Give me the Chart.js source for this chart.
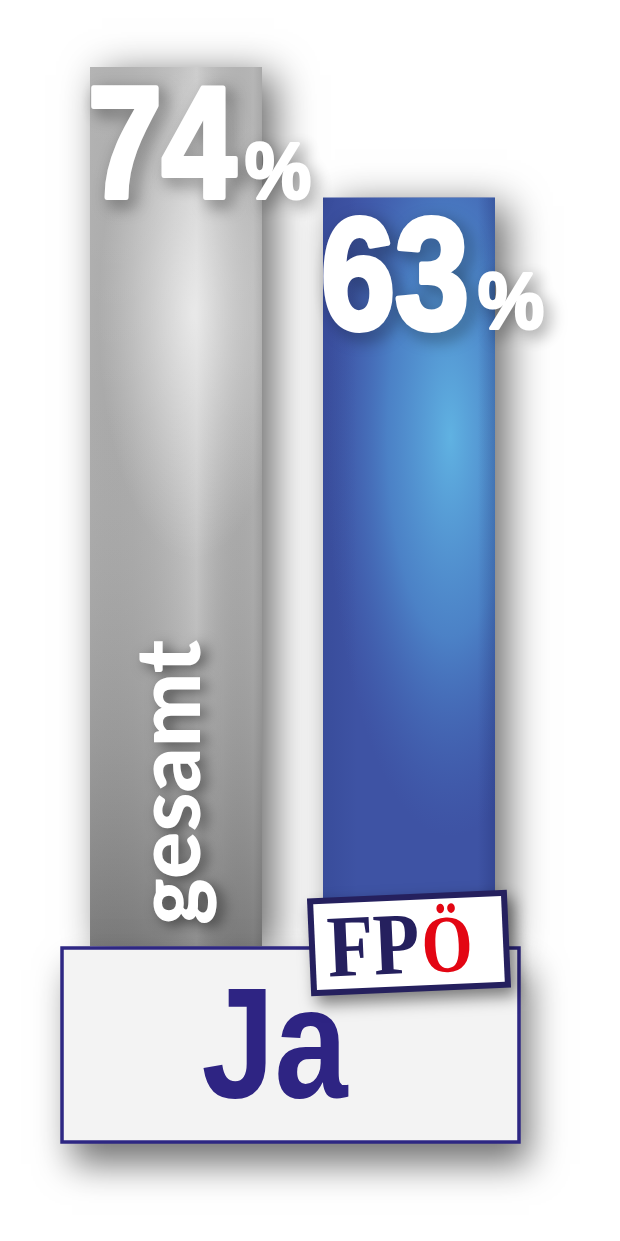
<!DOCTYPE html>
<html><head><meta charset="utf-8">
<script src="https://cdn.jsdelivr.net/npm/chart.js@4.4.0/dist/chart.umd.min.js"></script>
<style>html,body{margin:0;padding:0;background:#fff;overflow:hidden}canvas{display:block}</style>
</head><body>
<canvas id="c" width="620" height="1241"></canvas>
<script>
// ---- data ----
const categories = ['gesamt', 'FPÖ'];
const values = [74, 63];
const valueSuffix = '%';
const answerLabel = 'Ja';
const barColors = ['#b0b0b0', '#3e53a4'];

const HEAVY = 'Lato, "Liberation Sans", Arial, sans-serif';
const SANS = '"Liberation Sans", Arial, sans-serif';
const SERIF = '"Liberation Serif", "Times New Roman", serif';

function heavyText(ctx, txt, sx, tx, ty, lw) {
  ctx.save();
  ctx.translate(tx, ty); ctx.scale(sx, 1);
  ctx.lineJoin = 'round';
  ctx.lineWidth = lw / sx;
  ctx.strokeStyle = '#fff';
  ctx.strokeText(txt, 0, 0);
  ctx.shadowColor = 'transparent';
  ctx.fillText(txt, 0, 0);
  ctx.restore();
}

function drawValue(ctx, num, rightX, baseY) {
  ctx.save();
  ctx.fillStyle = '#fff';
  ctx.shadowColor = 'rgba(0,0,0,0.62)';
  ctx.shadowBlur = 16; ctx.shadowOffsetX = 6; ctx.shadowOffsetY = 6;
  ctx.textBaseline = 'alphabetic'; ctx.textAlign = 'left';
  ctx.font = 'bold 80px ' + SANS;
  const pm = ctx.measureText(valueSuffix).width;
  const ps = 66 / pm;
  const pw = pm * ps;
  ctx.font = 'bold 158px ' + SANS;
  const nm = ctx.measureText(num).width;
  const ns = (num.length * 74) / nm;
  const nw = nm * ns;
  heavyText(ctx, num, ns, rightX - pw - 10 - nw, baseY - 2, 5);
  ctx.font = 'bold 80px ' + SANS;
  heavyText(ctx, valueSuffix, ps, rightX - pw - 1, baseY - 1.5, 3);
  ctx.restore();
}

const fx = {
  id: 'fx',
  beforeDatasetsDraw(chart) {
    const ctx = chart.ctx;
    chart.getDatasetMeta(0).data.forEach((el, i) => {
      const w = el.width, x0 = el.x - w / 2, top = el.y, h = el.base - el.y;
      ctx.save();
      ctx.shadowColor = 'rgba(0,0,0,0.6)';
      ctx.shadowBlur = 38; ctx.shadowOffsetX = 12; ctx.shadowOffsetY = 8;
      ctx.fillStyle = barColors[i];
      ctx.fillRect(x0, top, w, h);
      ctx.restore();
    });
  },
  afterDatasetsDraw(chart) {
    const ctx = chart.ctx;
    const bars = chart.getDatasetMeta(0).data;
    bars.forEach((el, i) => {
      const w = el.width, x0 = el.x - w / 2, top = el.y, h = el.base - el.y;
      ctx.save();
      ctx.beginPath(); ctx.rect(x0, top, w, h); ctx.clip();
      if (i === 0) {
        let g = ctx.createLinearGradient(x0, 0, x0 + w, 0);
        g.addColorStop(0, 'rgba(0,0,0,0.05)');
        g.addColorStop(0.62, 'rgba(255,255,255,0.25)');
        g.addColorStop(0.95, 'rgba(0,0,0,0.04)');
        g.addColorStop(1, 'rgba(0,0,0,0.12)');
        ctx.fillStyle = g; ctx.fillRect(x0, top, w, h);
        g = ctx.createLinearGradient(0, top, 0, el.base);
        g.addColorStop(0, 'rgba(255,255,255,0.15)');
        g.addColorStop(0.4, 'rgba(255,255,255,0.05)');
        g.addColorStop(1, 'rgba(0,0,0,0.26)');
        ctx.fillStyle = g; ctx.fillRect(x0, top, w, h);
        ctx.save(); ctx.translate(x0 + w * 0.6, top + h * 0.28); ctx.scale(1, 2.6);
        const rg = ctx.createRadialGradient(0, 0, 0, 0, 0, 95);
        rg.addColorStop(0, 'rgba(255,255,255,0.6)');
        rg.addColorStop(1, 'rgba(255,255,255,0)');
        ctx.fillStyle = rg; ctx.fillRect(-200, -200, 400, 400); ctx.restore();
      } else {
        ctx.save(); ctx.translate(x0 + w * 0.74, top + h * 0.32); ctx.scale(1, 3.2);
        const rg = ctx.createRadialGradient(0, 0, 0, 0, 0, 125);
        rg.addColorStop(0, 'rgba(96,178,226,1)');
        rg.addColorStop(0.5, 'rgba(80,145,210,0.75)');
        rg.addColorStop(1, 'rgba(70,110,190,0)');
        ctx.fillStyle = rg; ctx.fillRect(-300, -300, 600, 600); ctx.restore();
        let g = ctx.createLinearGradient(x0, 0, x0 + w, 0);
        g.addColorStop(0, 'rgba(20,30,90,0.12)');
        g.addColorStop(0.2, 'rgba(20,30,90,0)');
        g.addColorStop(0.9, 'rgba(20,30,90,0)');
        g.addColorStop(1, 'rgba(20,30,90,0.22)');
        ctx.fillStyle = g; ctx.fillRect(x0, top, w, h);
      }
      ctx.restore();
      drawValue(ctx, String(values[i]), x0 + w + 50, top + 132);
    });

    // rotated category label on first bar
    const b0 = bars[0];
    ctx.save();
    ctx.fillStyle = '#fff';
    ctx.shadowColor = 'rgba(0,0,0,0.55)';
    ctx.shadowBlur = 14; ctx.shadowOffsetX = 6; ctx.shadowOffsetY = 4;
    ctx.translate(b0.x + 24, b0.base - 21);
    ctx.rotate(-Math.PI / 2);
    ctx.font = '900 90px ' + HEAVY;
    const gm = ctx.measureText(categories[0]).width;
    ctx.scale(285 / gm, 1);
    ctx.textAlign = 'left'; ctx.textBaseline = 'alphabetic';
    ctx.fillText(categories[0], 0, 0);
    ctx.restore();

    // answer box
    const b1 = bars[1];
    const bx = b0.x - b0.width / 2 - 28, bxr = b1.x + b1.width / 2 + 24;
    const by = b0.base + 2, bh = 194;
    ctx.save();
    ctx.shadowColor = 'rgba(0,0,0,0.55)';
    ctx.shadowBlur = 34; ctx.shadowOffsetX = 10; ctx.shadowOffsetY = 22;
    ctx.fillStyle = '#f3f3f3';
    ctx.fillRect(bx, by, bxr - bx, bh);
    ctx.restore();
    ctx.save();
    ctx.strokeStyle = '#2e2783'; ctx.lineWidth = 3.5;
    ctx.strokeRect(bx, by, bxr - bx, bh);
    ctx.fillStyle = '#2e2483';
    ctx.font = 'bold 158px ' + SANS;
    const jw = ctx.measureText(answerLabel).width;
    const js = 146 / jw;
    ctx.translate((bx + bxr) / 2 - 16, by + 149);
    ctx.scale(js, 1);
    ctx.textAlign = 'center'; ctx.textBaseline = 'alphabetic';
    ctx.fillText(answerLabel, 0, 0);
    ctx.restore();

    // party logo
    ctx.save();
    ctx.translate(b1.x, b1.base - 3);
    ctx.rotate(-2.5 * Math.PI / 180);
    ctx.save();
    ctx.shadowColor = 'rgba(0,0,0,0.5)';
    ctx.shadowBlur = 16; ctx.shadowOffsetX = 6; ctx.shadowOffsetY = 8;
    ctx.fillStyle = '#25205e';
    ctx.fillRect(-100, -49, 200, 98);
    ctx.restore();
    ctx.fillStyle = '#fff';
    ctx.fillRect(-94, -43, 188, 86);
    const party = categories[1];
    ctx.textBaseline = 'alphabetic'; ctx.textAlign = 'left';
    ctx.font = 'bold 88px ' + SERIF;
    const fp = party.slice(0, 2), oe = party.slice(2);
    const fpw = ctx.measureText(fp).width * 0.86;
    ctx.save(); ctx.translate(-82, 30); ctx.scale(0.86, 1);
    ctx.fillStyle = '#25205e'; ctx.fillText(fp, 0, 0); ctx.restore();
    ctx.save(); ctx.translate(-82 + fpw + 2, 30); ctx.scale(0.82, 1.02);
    ctx.font = 'bold 80px ' + SERIF;
    ctx.fillStyle = '#e30613'; ctx.fillText(oe, 0, 0); ctx.restore();
    ctx.restore();
  }
};

new Chart(document.getElementById('c'), {
  type: 'bar',
  data: {
    labels: categories,
    datasets: [{ data: values, backgroundColor: barColors, borderWidth: 0, barPercentage: 0.738, categoryPercentage: 1 }]
  },
  options: {
    responsive: false, animation: false, devicePixelRatio: 1,
    layout: { padding: { left: 59.5, right: 94.5, top: 67, bottom: 295 } },
    plugins: { legend: { display: false }, tooltip: { enabled: false } },
    scales: {
      x: { display: false },
      y: { display: false, min: 0, max: 74 }
    }
  },
  plugins: [fx]
});
</script>
</body></html>
